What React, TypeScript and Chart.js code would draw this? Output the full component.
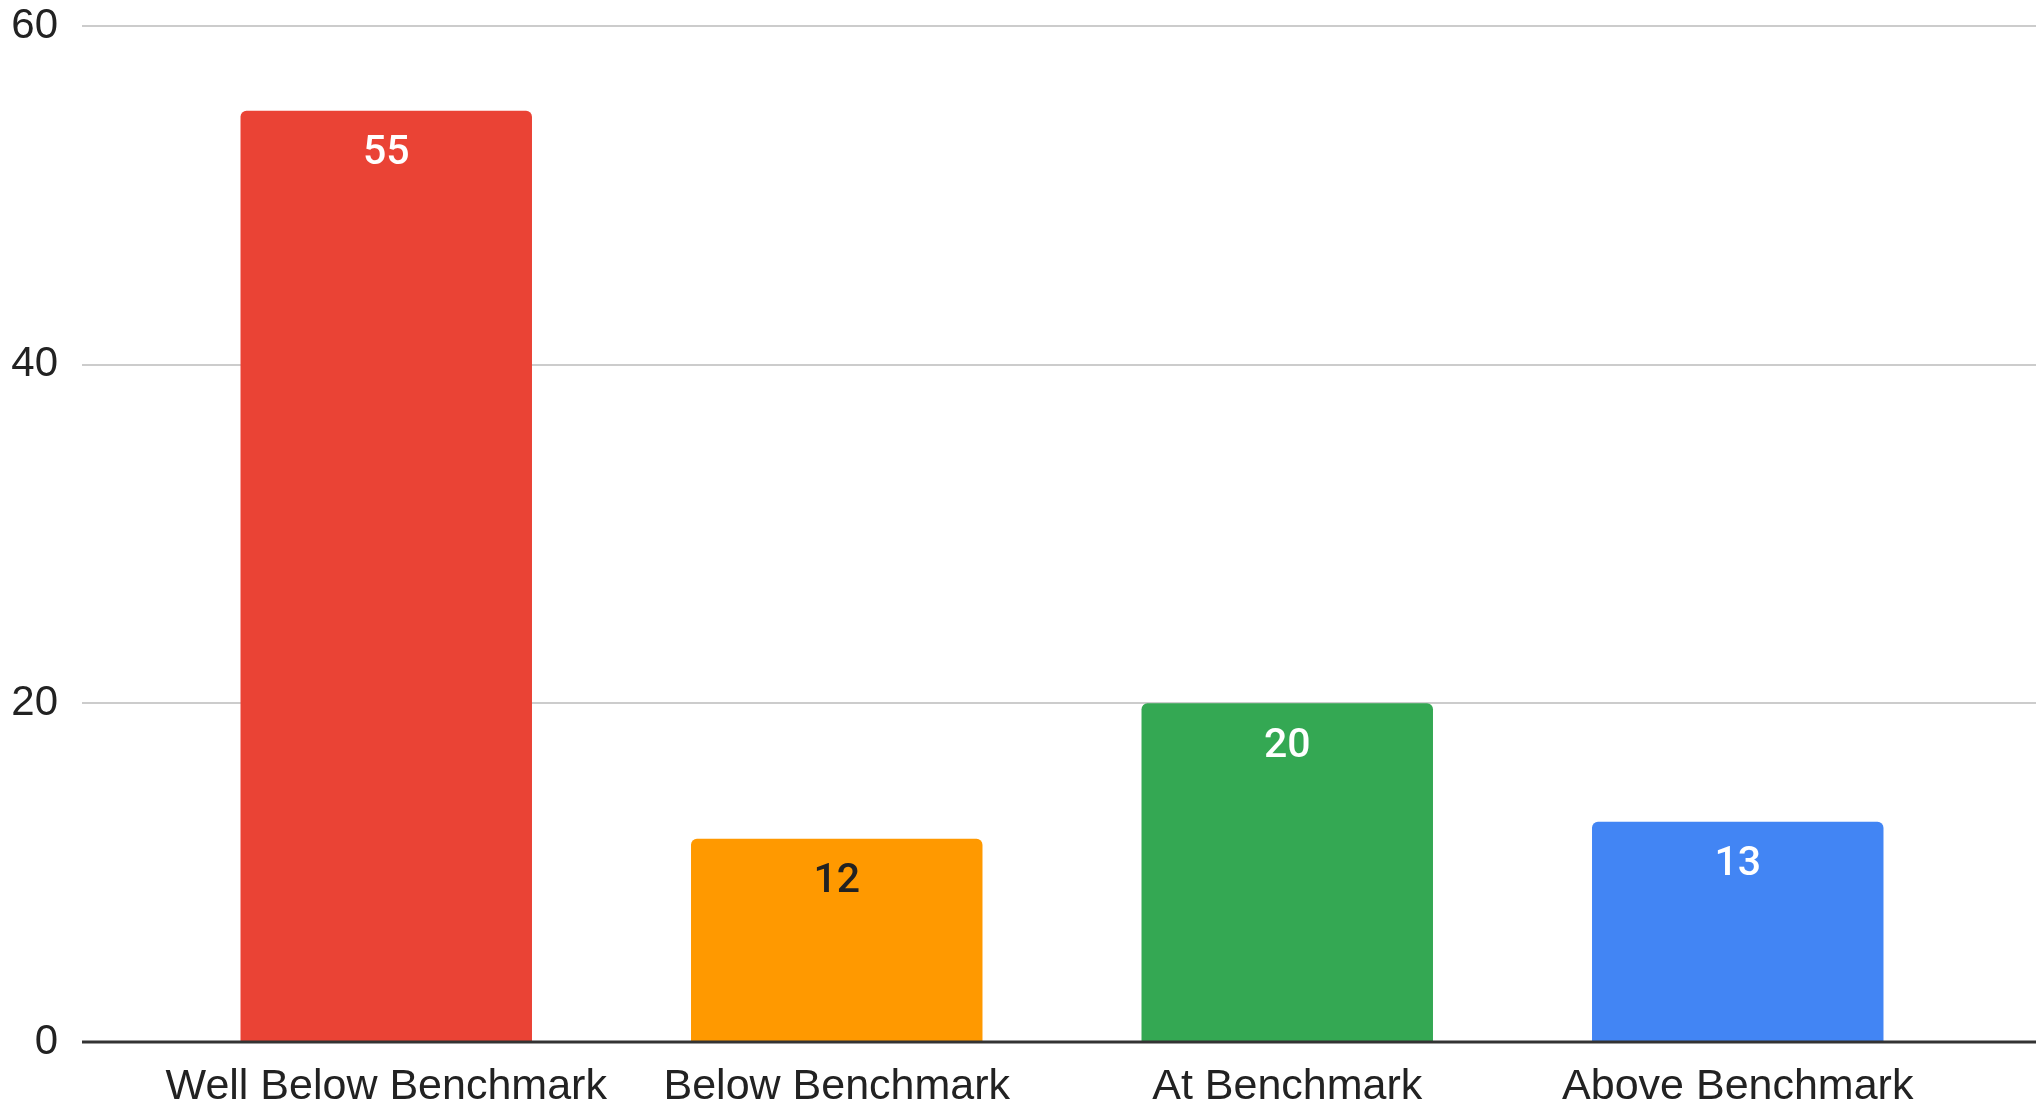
import { useEffect, useRef } from "react";
import { Chart, registerables } from "chart.js";

Chart.register(...registerables);

const categories = ["Well Below Benchmark", "Below Benchmark", "At Benchmark", "Above Benchmark"];
const counts = [55, 12, 20, 13];
const barColors = ["#EA4335", "#FF9900", "#34A853", "#4285F4"];
const valueLabelColors = ["#ffffff", "#222222", "#ffffff", "#ffffff"];
const yTickValues = [0, 20, 40, 60];

const AXIS_FONT = "'Liberation Sans', Arial, sans-serif";
const VALUE_FONT = "Roboto, 'Noto Sans', sans-serif";

const gridPlugin = {
  id: "extendedGrid",
  beforeDatasetsDraw(chart: any) {
    const { ctx } = chart;
    const y = chart.scales.y;
    ctx.save();
    ctx.strokeStyle = "#cccccc";
    ctx.lineWidth = 2;
    for (const v of yTickValues) {
      if (v === 0) continue;
      const py = Math.round(y.getPixelForValue(v));
      ctx.beginPath();
      ctx.moveTo(82, py);
      ctx.lineTo(chart.width, py);
      ctx.stroke();
    }
    ctx.restore();
  },
  afterDatasetsDraw(chart: any) {
    const { ctx } = chart;
    const y = chart.scales.y;
    ctx.save();
    ctx.strokeStyle = "#333333";
    ctx.lineWidth = 3;
    const py = y.getPixelForValue(0);
    ctx.beginPath();
    ctx.moveTo(82, py);
    ctx.lineTo(chart.width, py);
    ctx.stroke();

    const meta = chart.getDatasetMeta(0);
    ctx.font = `500 41px ${VALUE_FONT}`;
    ctx.textAlign = "center";
    ctx.textBaseline = "middle";
    meta.data.forEach((bar: any, i: number) => {
      ctx.fillStyle = valueLabelColors[i];
      ctx.fillText(String(counts[i]), bar.x, bar.y + 43);
    });
    ctx.restore();
  },
};

export default function App() {
  const canvasRef = useRef<HTMLCanvasElement | null>(null);

  useEffect(() => {
    const canvas = canvasRef.current;
    if (!canvas) return;
    const chart = new Chart(canvas, {
      type: "bar",
      data: {
        labels: categories,
        datasets: [
          {
            data: counts,
            backgroundColor: barColors,
            borderRadius: { topLeft: 6, topRight: 6, bottomLeft: 0, bottomRight: 0 },
            borderSkipped: false,
            barPercentage: 0.647,
            categoryPercentage: 1,
          },
        ],
      },
      options: {
        animation: false,
        responsive: false,
        devicePixelRatio: 1,
        layout: { padding: { left: 0, right: 73, top: 26, bottom: 0 } },
        plugins: {
          legend: { display: false },
          tooltip: { enabled: false },
        },
        scales: {
          x: {
            grid: { display: false, drawTicks: false },
            border: { display: false },
            ticks: {
              color: "#222222",
              font: { family: AXIS_FONT, size: 43 },
              padding: 19,
              maxRotation: 0,
              autoSkip: false,
            },
            afterFit(scale: any) {
              scale.height = 68;
              scale.paddingLeft = 0;
              scale.paddingRight = 0;
            },
          },
          y: {
            min: 0,
            max: 60,
            grid: { display: false, drawTicks: false },
            border: { display: false },
            ticks: {
              stepSize: 20,
              color: "#222222",
              font: { family: AXIS_FONT, size: 42 },
              padding: 103,
            },
            afterFit(scale: any) {
              scale.width = 161;
              scale.paddingTop = 0;
              scale.paddingBottom = 0;
            },
          },
        },
      },
      plugins: [gridPlugin],
    });
    return () => chart.destroy();
  }, []);

  return (
    <canvas
      ref={canvasRef}
      width={2036}
      height={1110}
      style={{ position: "fixed", left: 0, top: 0, width: "2036px", height: "1110px", display: "block", background: "#ffffff" }}
    />
  );
}
